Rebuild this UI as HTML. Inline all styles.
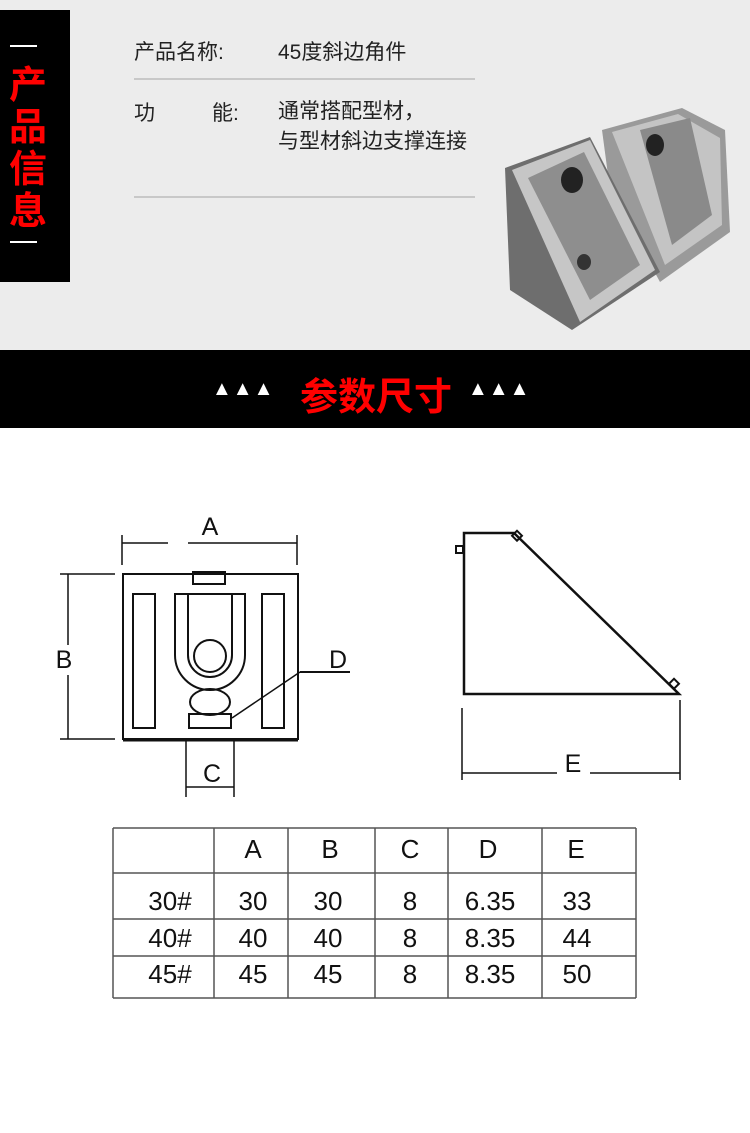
<!DOCTYPE html>
<html><head><meta charset="utf-8"><style>
body{margin:0;width:750px;height:1133px;background:#fff;position:relative;overflow:hidden;font-family:"Liberation Sans","Noto Sans CJK SC",sans-serif}
.top{position:absolute;left:0;top:0;width:750px;height:350px;background:#ececec}
.side{position:absolute;left:0;top:10px;width:70px;height:272px;background:#000}
.t{position:absolute;color:#222;font-size:21px;white-space:nowrap}
.band{position:absolute;left:0;top:350px;width:750px;height:78px;background:#000}
</style></head><body>
<div class="top"></div>
<div class="side">
<div style="position:absolute;left:10px;top:35px;width:27px;height:2px;background:#fff"></div>
<div style="position:absolute;left:8px;top:55px;width:40px;color:#f00;font-size:38px;font-weight:bold;line-height:42px;text-align:center">产<br>品<br>信<br>息</div>
<div style="position:absolute;left:10px;top:231px;width:27px;height:2px;background:#fff"></div>
</div>
<div class="t" style="left:134px;top:36px">产品名称:</div>
<div class="t" style="left:278px;top:36px">45度斜边角件</div>
<div style="position:absolute;left:134px;top:78px;width:341px;height:2px;background:#c8c8c8"></div>
<div class="t" style="left:134px;top:97px">功</div>
<div class="t" style="left:212px;top:97px">能:</div>
<div class="t" style="left:278px;top:97px;line-height:30px">通常搭配型材，<br>与型材斜边支撑连接</div>
<div style="position:absolute;left:134px;top:196px;width:341px;height:2px;background:#c8c8c8"></div>
<svg style="position:absolute;left:0;top:0" width="750" height="350">
<polygon points="602,130 682,108 725,130 730,232 660,282 610,190" fill="#9a9a9a"/>
<polygon points="612,132 678,114 720,138 722,225 665,265" fill="#c4c4c4"/>
<polygon points="640,130 690,118 712,215 672,245" fill="#8a8a8a"/>
<polygon points="505,168 590,137 660,272 572,330 510,290" fill="#6e6e6e"/>
<polygon points="512,170 590,140 655,270 580,322" fill="#c6c6c6"/>
<polygon points="528,178 584,152 640,265 590,300" fill="#8e8e8e"/>
<ellipse cx="572" cy="180" rx="11" ry="13" fill="#222"/>
<ellipse cx="655" cy="145" rx="9" ry="11" fill="#222"/>
<ellipse cx="584" cy="262" rx="7" ry="8" fill="#333"/>
</svg>
<div class="band">
<div style="position:absolute;left:212px;top:28px;color:#fff;font-size:20px;letter-spacing:1px">▲▲▲</div>
<div style="position:absolute;left:300px;top:16px;color:#f00;font-size:38px;font-weight:bold">参数尺寸</div>
<div style="position:absolute;left:468px;top:28px;color:#fff;font-size:20px;letter-spacing:1px">▲▲▲</div>
</div>
<svg style="position:absolute;left:0;top:0" width="750" height="1133" font-family="Liberation Sans,sans-serif">
<g stroke="#111" fill="none" stroke-width="2">
<rect x="123" y="574" width="175" height="165"/>
<line x1="123" y1="740" x2="298" y2="740" stroke-width="3"/>
<rect x="193" y="572" width="32" height="12"/>
<rect x="133" y="594" width="22" height="134"/>
<rect x="262" y="594" width="22" height="134"/>
<path d="M175,594 V655 A35,35 0 0 0 245,655 V594 Z"/>
<path d="M188,594 V655 A22,22 0 0 0 232,655 V594"/>
<circle cx="210" cy="656" r="16"/>
<ellipse cx="210" cy="702" rx="20" ry="13"/>
<rect x="189" y="714" width="42" height="14"/>
<line x1="232" y1="718" x2="300" y2="672" stroke-width="1.5"/>
<line x1="300" y1="672" x2="350" y2="672"/>
<line x1="122" y1="535" x2="122" y2="565" stroke-width="1.5"/>
<line x1="297" y1="535" x2="297" y2="565" stroke-width="1.5"/>
<line x1="122" y1="543" x2="168" y2="543" stroke-width="1.5"/>
<line x1="188" y1="543" x2="297" y2="543" stroke-width="1.5"/>
<line x1="60" y1="574" x2="115" y2="574" stroke-width="1.5"/>
<line x1="60" y1="739" x2="115" y2="739" stroke-width="1.5"/>
<line x1="68" y1="574" x2="68" y2="645" stroke-width="1.5"/>
<line x1="68" y1="675" x2="68" y2="739" stroke-width="1.5"/>
<line x1="186" y1="740" x2="186" y2="797" stroke-width="1.5"/>
<line x1="234" y1="740" x2="234" y2="797" stroke-width="1.5"/>
<line x1="186" y1="787" x2="234" y2="787" stroke-width="1.5"/>
<path d="M464,533 H514 L679,694 H464 Z" stroke-width="2.5"/>
<rect x="456" y="546" width="7" height="7"/>
<rect x="514" y="532" width="7" height="7" transform="rotate(45 517 535)"/>
<rect x="671" y="680" width="7" height="7" transform="rotate(45 674 683)"/>
<line x1="462" y1="708" x2="462" y2="780" stroke-width="1.5"/>
<line x1="680" y1="700" x2="680" y2="780" stroke-width="1.5"/>
<line x1="462" y1="773" x2="557" y2="773" stroke-width="1.5"/>
<line x1="590" y1="773" x2="680" y2="773" stroke-width="1.5"/>
<g stroke="#555" stroke-width="1.5">
<line x1="113" y1="828" x2="636" y2="828"/>
<line x1="113" y1="873" x2="636" y2="873"/>
<line x1="113" y1="919" x2="636" y2="919"/>
<line x1="113" y1="956" x2="636" y2="956"/>
<line x1="113" y1="998" x2="636" y2="998"/>
<line x1="113" y1="828" x2="113" y2="998"/>
<line x1="214" y1="828" x2="214" y2="998"/>
<line x1="288" y1="828" x2="288" y2="998"/>
<line x1="375" y1="828" x2="375" y2="998"/>
<line x1="448" y1="828" x2="448" y2="998"/>
<line x1="542" y1="828" x2="542" y2="998"/>
<line x1="636" y1="828" x2="636" y2="998"/>
</g>
</g>
<g fill="#111" font-size="25">
<text x="210" y="535" text-anchor="middle">A</text>
<text x="64" y="668" text-anchor="middle">B</text>
<text x="212" y="782" text-anchor="middle">C</text>
<text x="338" y="668" text-anchor="middle">D</text>
<text x="573" y="772" text-anchor="middle">E</text>
</g>
<g fill="#111" font-size="26" text-anchor="middle">
<text x="253" y="858">A</text><text x="330" y="858">B</text><text x="410" y="858">C</text><text x="488" y="858">D</text><text x="576" y="858">E</text>
<text x="170" y="910">30#</text><text x="253" y="910">30</text><text x="328" y="910">30</text><text x="410" y="910">8</text><text x="490" y="910">6.35</text><text x="577" y="910">33</text>
<text x="170" y="947">40#</text><text x="253" y="947">40</text><text x="328" y="947">40</text><text x="410" y="947">8</text><text x="490" y="947">8.35</text><text x="577" y="947">44</text>
<text x="170" y="983">45#</text><text x="253" y="983">45</text><text x="328" y="983">45</text><text x="410" y="983">8</text><text x="490" y="983">8.35</text><text x="577" y="983">50</text>
</g>
</svg>
</body></html>
